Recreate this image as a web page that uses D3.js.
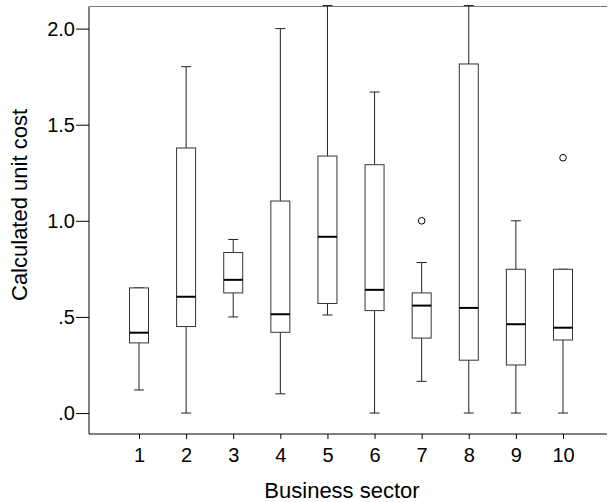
<!DOCTYPE html>
<html lang="en">
	<head>
		<meta charset="utf-8">
		<title>D3: box plot of unit cost by sector</title>
		<script type="text/javascript" src="https://cdn.jsdelivr.net/npm/d3@7"></script>
		<style type="text/css">
			body {
				margin: 0;
				background: #fff;
			}

			.tick text {
				font-family: "Liberation Sans", Arial, sans-serif;
				font-size: 20px;
				fill: #000;
			}

			.title {
				font-family: "Liberation Sans", Arial, sans-serif;
				font-size: 22px;
				fill: #000;
				text-anchor: middle;
			}
		</style>
	</head>
	<body>
		<script type="text/javascript">

			//Data
			var sectors = ["1", "2", "3", "4", "5", "6", "7", "8", "9", "10"];
			var lowerWhisker = [0.12, 0.0, 0.50, 0.10, 0.51, 0.0, 0.165, 0.0, 0.0, 0.0];
			var q1 = [0.365, 0.45, 0.625, 0.42, 0.57, 0.533, 0.39, 0.275, 0.25, 0.38];
			var medians = [0.418, 0.605, 0.693, 0.514, 0.917, 0.641, 0.559, 0.547, 0.462, 0.444];
			var q3 = [0.651, 1.379, 0.835, 1.103, 1.337, 1.292, 0.625, 1.816, 0.748, 0.748];
			var upperWhisker = [0.651, 1.802, 0.903, 2.0, 2.12, 1.67, 0.783, 2.12, 1.0, 0.748];
			var outlierSectors = ["7", "10"];
			var outlierValues = [1.0, 1.328];

			var yTicks = [0, 0.5, 1.0, 1.5, 2.0];
			var yTickLabels = [".0", ".5", "1.0", "1.5", "2.0"];

			//Settings
			var w = 608
			var h = 502

			// note: "top" is taken by window.top, so plot* names
			var plotLeft = 89, plotRight = 607, plotTop = 6.5, plotBottom = 434;
			var boxWidth = 19
			var capWidth = 10

			var svg = d3.select("body")
				.append("svg")
				.attr("width", w)
				.attr("height", h);

			var x = d3.scalePoint()
				.domain(sectors)
				.range([139, 563]);

			var y = d3.scaleLinear()
				.domain([-0.109, 2.115])
				.range([plotBottom, plotTop]);

			var boxes = sectors.map(function(s, i) {
				return {
					sector: s,
					lo: lowerWhisker[i],
					q1: q1[i],
					med: medians[i],
					q3: q3[i],
					hi: upperWhisker[i]
				};
			});

			// axes
			svg.append("g")
				.attr("transform", "translate(" + plotLeft + ",0)")
				.call(d3.axisLeft(y)
					.tickValues(yTicks)
					.tickFormat(function(d, i) { return yTickLabels[i]; })
					.tickSize(13)
					.tickPadding(1))
				.call(function(g) { g.select(".domain").remove(); });

			svg.append("g")
				.attr("transform", "translate(0," + plotBottom + ")")
				.call(d3.axisBottom(x)
					.tickSize(5)
					.tickPadding(9))
				.call(function(g) { g.select(".domain").remove(); });

			// frame
			svg.append("line")
				.attr("x1", plotLeft).attr("x2", plotLeft)
				.attr("y1", plotTop).attr("y2", plotBottom)
				.attr("stroke", "#000");
			svg.append("line")
				.attr("x1", plotLeft).attr("x2", plotRight)
				.attr("y1", plotBottom).attr("y2", plotBottom)
				.attr("stroke", "#000");
			svg.append("line")
				.attr("x1", plotLeft).attr("x2", plotRight)
				.attr("y1", plotTop).attr("y2", plotTop)
				.attr("stroke", "#777");

			var g = svg.selectAll("g.box")
				.data(boxes)
				.enter()
				.append("g")
				.attr("class", "box");

			// whiskers
			g.append("line")
				.attr("x1", function(d) { return x(d.sector); })
				.attr("x2", function(d) { return x(d.sector); })
				.attr("y1", function(d) { return y(d.q3); })
				.attr("y2", function(d) { return y(d.hi); })
				.attr("stroke", "#222");
			g.append("line")
				.attr("x1", function(d) { return x(d.sector); })
				.attr("x2", function(d) { return x(d.sector); })
				.attr("y1", function(d) { return y(d.q1); })
				.attr("y2", function(d) { return y(d.lo); })
				.attr("stroke", "#222");

			// caps
			g.append("line")
				.attr("x1", function(d) { return x(d.sector) - capWidth / 2; })
				.attr("x2", function(d) { return x(d.sector) + capWidth / 2; })
				.attr("y1", function(d) { return y(d.hi); })
				.attr("y2", function(d) { return y(d.hi); })
				.attr("stroke", "#222");
			g.append("line")
				.attr("x1", function(d) { return x(d.sector) - capWidth / 2; })
				.attr("x2", function(d) { return x(d.sector) + capWidth / 2; })
				.attr("y1", function(d) { return y(d.lo); })
				.attr("y2", function(d) { return y(d.lo); })
				.attr("stroke", "#222");

			// box
			g.append("rect")
				.attr("x", function(d) { return x(d.sector) - boxWidth / 2; })
				.attr("y", function(d) { return y(d.q3); })
				.attr("width", boxWidth)
				.attr("height", function(d) { return y(d.q1) - y(d.q3); })
				.attr("fill", "#fff")
				.attr("stroke", "#333");

			// median
			g.append("line")
				.attr("x1", function(d) { return x(d.sector) - boxWidth / 2; })
				.attr("x2", function(d) { return x(d.sector) + boxWidth / 2; })
				.attr("y1", function(d) { return y(d.med); })
				.attr("y2", function(d) { return y(d.med); })
				.attr("stroke", "#000")
				.style("stroke-width", "2px");

			// outliers
			svg.selectAll("circle.outlier")
				.data(outlierSectors)
				.enter()
				.append("circle")
				.attr("class", "outlier")
				.attr("cx", function(d) { return x(d); })
				.attr("cy", function(d, i) { return y(outlierValues[i]); })
				.attr("r", 3.3)
				.attr("fill", "#fff")
				.attr("stroke", "#000");

			// titles
			svg.append("text")
				.attr("class", "title")
				.attr("x", 342)
				.attr("y", 498)
				.text("Business sector");

			svg.append("text")
				.attr("class", "title")
				.attr("transform", "translate(27,205) rotate(-90)")
				.text("Calculated unit cost");

		</script>
	</body>
</html>
